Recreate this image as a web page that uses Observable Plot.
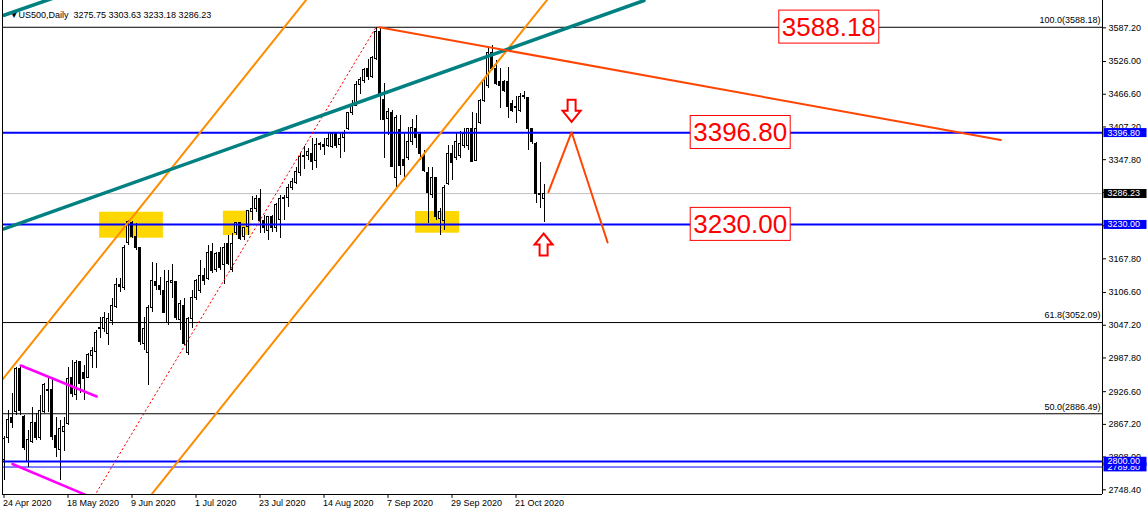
<!DOCTYPE html>
<html><head><meta charset="utf-8">
<script src="https://cdn.jsdelivr.net/npm/d3@7"></script>
<script src="https://cdn.jsdelivr.net/npm/@observablehq/plot@0.6"></script>
<style>
html,body{margin:0;padding:0;background:#fff;}
#chart{width:1148px;height:513px;overflow:hidden;}
svg{display:block;}
svg text{white-space:pre;}
</style></head><body><div id="chart"></div>
<script>
// ---- Daily candles (index 0 = 24 Apr 2020) ----
const open  = [2802,2843,2878,2889,2967,2880,2798,2836,2869,2842,2889,2927,2929,2847,2820,2853,2867,2952,2920,2980,2961,2952,2992,2998,3040,3040,3032,3054,3081,3121,3114,3196,3233,3208,3187,3014,2996,3078,3125,3118,3110,3052,3123,3125,3056,3083,2996,3058,3096,3110,3136,3132,3181,3147,3179,3156,3194,3147,3214,3232,3207,3225,3252,3259,3277,3237,3219,3243,3223,3239,3277,3279,3297,3306,3323,3352,3354,3359,3346,3374,3375,3372,3370,3394,3374,3388,3403,3432,3446,3484,3490,3512,3497,3530,3579,3457,3421,3433,3315,3401,3348,3350,3379,3404,3392,3355,3323,3283,3314,3241,3237,3303,3359,3350,3354,3372,3372,3403,3346,3415,3455,3481,3542,3512,3488,3488,3488,3448,3441,3437,3464,3459,3404,3377,3286,3275.75];
const high  = [2845,2892,2923,2970,2974,2883,2856,2898,2887,2920,2941,2952,2952,2880,2874,2880,2970,2983,2983,2982,2974,2996,3007,3038,3061,3070,3068,3096,3132,3132,3192,3237,3235,3232,3188,3061,3083,3161,3159,3134,3147,3147,3158,3126,3092,3096,3061,3110,3130,3165,3150,3192,3196,3179,3188,3196,3210,3214,3234,3234,3225,3256,3281,3283,3294,3246,3244,3246,3268,3283,3283,3303,3314,3334,3359,3372,3368,3386,3386,3379,3386,3395,3395,3395,3397,3401,3434,3455,3490,3497,3513,3530,3535,3588.18,3587,3486,3441,3437,3428,3428,3395,3406,3421,3428,3395,3364,3334,3334,3316,3259,3301,3374,3374,3395,3399,3404,3404,3433,3432,3457,3497,3551,3555,3528,3513,3492,3515,3455,3463,3468,3472,3461,3405,3379,3343,3303.63];
const low   = [2765,2832,2860,2883,2883,2820,2789,2832,2838,2838,2887,2889,2838,2807,2765,2818,2865,2916,2911,2923,2911,2950,2969,2969,3023,3034,3010,3047,3078,3107,3110,3192,3205,3183,3010,3001,2938,3070,3110,3101,3068,3047,3096,3056,3038,3010,2992,3041,3092,3105,3119,3128,3141,3143,3147,3121,3156,3143,3210,3201,3201,3210,3237,3252,3214,3214,3201,3216,3216,3205,3237,3261,3292,3303,3317,3330,3346,3328,3332,3365,3355,3370,3368,3368,3350,3361,3401,3428,3444,3466,3486,3492,3495,3528,3419,3350,3392,3334,3297,3319,3310,3346,3374,3368,3346,3325,3232,3277,3237,3210,3219,3301,3310,3346,3350,3368,3364,3343,3344,3412,3452,3477,3510,3482,3441,3470,3423,3433,3413,3433,3457,3364,3375,3268,3259,3233.18];
const close = [2840,2876,2869,2967,2892,2825,2838,2869,2843,2892,2938,2929,2845,2825,2858,2862,2950,2923,2978,2941,2950,2994,3000,3034,3043,3061,3058,3083,3121,3116,3188,3234,3207,3187,3016,3041,3079,3128,3118,3112,3069,3125,3127,3061,3085,3014,3059,3096,3128,3136,3127,3179,3145,3176,3152,3188,3159,3194,3232,3203,3223,3254,3259,3276,3237,3223,3243,3223,3266,3276,3279,3297,3308,3326,3352,3355,3361,3343,3375,3377,3370,3386,3394,3372,3386,3395,3432,3446,3484,3492,3510,3497,3533,3580,3464,3419,3435,3335,3424,3337,3337,3379,3406,3388,3359,3328,3288,3314,3243,3252,3297,3359,3341,3379,3377,3395,3403,3344,3403,3455,3490,3542,3513,3486,3482,3473,3443,3437,3444,3461,3461,3403,3379,3285,3283,3286.23];

// ---- Axis ticks ----
const xTickIdx  = [0,16,32,48,64,80,96,112,128];
const xTickText = ["24 Apr 2020","18 May 2020","9 Jun 2020","1 Jul 2020","23 Jul 2020","14 Aug 2020","7 Sep 2020","29 Sep 2020","21 Oct 2020"];
const yTicks    = [3587.20,3526.00,3466.60,3407.20,3347.80,3288.40,3227.80,3167.80,3106.60,3047.20,2987.80,2926.60,2867.20,2808.00,2748.40];

// ---- Levels and drawn objects (bar index, price) ----
const fibLevels = [3588.18, 3052.09, 2886.49];
const fibText   = ["100.0(3588.18)", "61.8(3052.09)", "50.0(2886.49)"];
const blueLevels = [3396.80, 3230.00, 2800.00];
const blueThin   = [2789.80];
const lastPrice  = 3286.23;
const priceTags      = [3396.80, 3286.23, 3230.00, 2789.80, 2800.00];
const priceTagColor  = ["#0000ff", "#000000", "#0000ff", "#0000ff", "#0000ff"];
const bigLabels  = [[206.2, 3588.18], [184.05, 3396.80], [184.05, 3230.00]];
const zones = [[23.9, 39.85, 3205.2, 3252.4], [54.85, 61.7, 3210.1, 3254.3], [102.9, 113.9, 3214.3, 3253.7]];
const tealMain   = [[0, 3222], [160, 3636.8]];
const tealUpper  = [[0, 3610], [15, 3648]];
const orangeUp   = [[-1, 2943], [76, 3642]];
const orangeLow  = [[36, 2732], [137, 3649]];
const redDotted  = [[22, 2730], [93, 3588.18]];
const magentaUp  = [[4.18, 2974.1], [23.18, 2917.8]];
const magentaLow = [[2.1, 2795.3], [21, 2737.4]];
const trendDown  = [[93.8, 3588.2], [249.2, 3383.4]];
const zigzag     = [[136.1, 3288.8], [141.9, 3397.7], [150.9, 3197.4]];
const upArrows   = [[134.9, 3193.8]];
const downArrows = [[141.9, 3436.5]];
const header = "US500,Daily  3275.75 3303.63 3233.18 3286.23";

const candles = open.map((o, i) => ({i, o, h: high[i], l: low[i], c: close[i]}));

const X0 = -0.375, X1 = 274.625, Y0 = 2739.9, Y1 = 3636.8;
const FONT = "'Liberation Sans', Arial, sans-serif";

const arrowUp = {draw(ctx, size) { const k = Math.sqrt(size / Math.PI) / 11;
  ctx.moveTo(0, -11*k); ctx.lineTo(9*k, 0); ctx.lineTo(4*k, 0); ctx.lineTo(4*k, 11*k);
  ctx.lineTo(-4*k, 11*k); ctx.lineTo(-4*k, 0); ctx.lineTo(-9*k, 0); ctx.closePath(); }};
const arrowDown = {draw(ctx, size) { const k = Math.sqrt(size / Math.PI) / 11;
  ctx.moveTo(0, 11*k); ctx.lineTo(9*k, 0); ctx.lineTo(4*k, 0); ctx.lineTo(4*k, -11*k);
  ctx.lineTo(-4*k, -11*k); ctx.lineTo(-4*k, 0); ctx.lineTo(-9*k, 0); ctx.closePath(); }};

const P = d => d[0], V = d => d[1];
const seg = (data, stroke, w, extra = {}) => Plot.line(data, {x: P, y: V, stroke, strokeWidth: w, clip: true, ...extra});

const chart = Plot.plot({
  width: 1148, height: 513,
  marginLeft: 2, marginRight: 46, marginTop: 0, marginBottom: 19,
  style: {fontFamily: FONT, fontSize: "9px", background: "#fff", color: "#000", overflow: "visible"},
  x: {type: "linear", domain: [X0, X1], axis: null},
  y: {type: "linear", domain: [Y0, Y1], axis: null},
  color: {type: "identity"},
  marks: [
    Plot.rect(zones, {x1: d => d[0], x2: d => d[1], y1: d => d[2], y2: d => d[3], fill: "#ffd700"}),
    Plot.ruleY([lastPrice], {stroke: "#c0c0c0", strokeWidth: 1}),
    Plot.ruleY(fibLevels, {stroke: "#000", strokeWidth: 1}),
    Plot.text(fibLevels, {y: d => d, text: (d, i) => fibText[i], frameAnchor: "right", textAnchor: "end", dx: -2, dy: -7, fontSize: 9, fill: "#000"}),
    Plot.ruleX(candles, {x: "i", y1: "l", y2: "h", stroke: "#000", strokeWidth: 1, shapeRendering: "crispEdges"}),
    Plot.rect(candles, {x1: d => d.i - 0.25, x2: d => d.i + 0.25, y1: "o", y2: "c",
      fill: d => d.c >= d.o ? "#ffffff" : "#000000", stroke: "#000", strokeWidth: 1, shapeRendering: "crispEdges"}),
    Plot.ruleY(blueLevels, {stroke: "#0000ff", strokeWidth: 2}),
    Plot.ruleY(blueThin, {stroke: "#0000ff", strokeWidth: 1}),
    seg(redDotted, "#ff0000", 1, {strokeDasharray: "1.5,3"}),
    seg(orangeUp, "#ff8c00", 2),
    seg(orangeLow, "#ff8c00", 2),
    seg(magentaUp, "#ff00ff", 2.5),
    seg(magentaLow, "#ff00ff", 2.5),
    Plot.text(["\u25BC"], {text: d => d, frameAnchor: "top-left", dx: 8, dy: 10, fontSize: 9, fill: "#000", fontFamily: "DejaVu Sans"}),
    Plot.text([header], {text: d => d, frameAnchor: "top-left", dx: 16, dy: 11, textAnchor: "start", fontSize: 9, fill: "#000"}),
    seg(tealMain, "#008080", 3.5),
    seg(tealUpper, "#008080", 3.5),
    seg(trendDown, "#ff4500", 2),
    seg(zigzag, "#ff4500", 2),
    Plot.dot(upArrows, {x: P, y: V, r: 11, symbol: arrowUp, fill: "#fff", stroke: "#ff0000", strokeWidth: 2}),
    Plot.dot(downArrows, {x: P, y: V, r: 11, symbol: arrowDown, fill: "#fff", stroke: "#ff0000", strokeWidth: 2}),
    Plot.text(bigLabels, {x: P, y: V, text: d => d[1].toFixed(2), fontSize: 26, fill: "#ff0000", ariaDescription: "biglabel"}),
    // frame and axes
    Plot.ruleX([X0], {stroke: "#000", strokeWidth: 1}),
    Plot.ruleX([X1], {stroke: "#000", strokeWidth: 1}),
    Plot.ruleY([Y0], {stroke: "#000", strokeWidth: 1}),
    Plot.ruleY(yTicks, {x1: X1, x2: X1 + 1, stroke: "#000"}),
    Plot.text(yTicks, {y: d => d, text: d => d.toFixed(2), frameAnchor: "right", textAnchor: "start", dx: 6, fontSize: 9, fill: "#000"}),
    Plot.ruleX(xTickIdx, {x: d => d, y1: Y0, y2: Y0 - 7, stroke: "#000"}),
    Plot.text(xTickIdx, {x: d => d, text: (d, i) => xTickText[i], frameAnchor: "bottom", textAnchor: "start", dx: -1, dy: 11, fontSize: 9, fill: "#000"}),
    Plot.text(priceTags, {y: d => d, text: d => d.toFixed(2), frameAnchor: "right", textAnchor: "start", dx: 5, fontSize: 9, fill: "#fff", ariaDescription: "pricetag"})
  ]
});

document.getElementById("chart").append(chart);

const NS = "http://www.w3.org/2000/svg";
function findTexts(key, content) {
  // locate the text mark by its description, falling back to matching text content
  let texts = [];
  chart.querySelectorAll(`[aria-description="${key}"]`).forEach(el => {
    if (el.tagName.toLowerCase() === "text") texts.push(el);
    else texts.push(...el.querySelectorAll("text"));
  });
  if (!texts.length) {
    const all = Array.from(chart.querySelectorAll("text"));
    const groups = new Set();
    all.forEach(t => { if (content.includes(t.textContent) && t.getAttribute("fill") !== "#000") groups.add(t.parentNode); });
    groups.forEach(g => { const ts = Array.from(g.querySelectorAll("text")); if (ts.length === content.length) texts = ts; });
  }
  return texts;
}
function backdrop(texts, styleFn) {
  texts.forEach((t, k) => {
    const b = t.getBBox();
    const r = document.createElementNS(NS, "rect");
    for (const [a, v] of Object.entries(styleFn(b, k))) r.setAttribute(a, v);
    const tr = t.getAttribute("transform");
    if (tr) r.setAttribute("transform", tr);
    t.parentNode.insertBefore(r, t);
  });
}
backdrop(findTexts("pricetag", priceTags.map(d => d.toFixed(2))),
  (b, k) => ({x: b.x - 4, y: b.y + 0.5, width: 43, height: Math.max(9, b.height - 1), fill: priceTagColor[k], stroke: "none"}));
backdrop(findTexts("biglabel", bigLabels.map(d => d[1].toFixed(2))),
  b => ({x: b.x - 3, y: b.y - 1.5, width: b.width + 6, height: b.height + 3, fill: "#fff", stroke: "#ff0000", "stroke-width": 1}));
</script>
</body></html>
